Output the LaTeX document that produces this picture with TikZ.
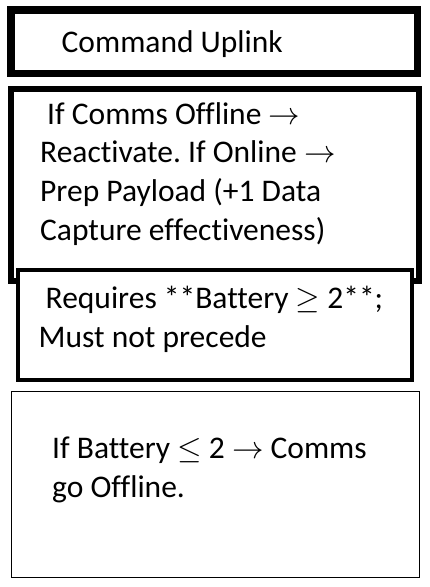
\documentclass[tikz,border=0pt]{standalone}
\usepackage{fix-cm}
\usepackage{fontspec}
\setmainfont[Ligatures=NoCommon]{Carlito}
\frenchspacing
\newcommand{\ra}{$\rightarrow$}
\newcommand{\lesym}{$\leq$}
\newcommand{\gesym}{$\geq$}
\begin{document}
\begin{tikzpicture}[x=1bp,y=-1bp,
  panel/.style={draw=black, fill=white, inner sep=0pt, anchor=center},
  label/.style={anchor=base west, align=left, inner sep=0pt,
    font=\fontsize{31.5bp}{38.8bp}\selectfont}]
\useasboundingbox (0,0) rectangle (429,587);
\fill[white] (0,0) rectangle (429,587);

% stacked panels
\node[panel, line width=7.5bp, minimum width=406.5bp, minimum height=63.5bp] (uplink) at (214.25,41.75) {};
\node[panel, line width=6bp, minimum width=408bp, minimum height=192bp] (prep) at (215,185) {};
\node[panel, line width=4bp, minimum width=394bp, minimum height=110bp] (req) at (215,325) {};
\node[panel, line width=1.2bp, minimum width=408bp, minimum height=186bp] (batt) at (215.5,484.5) {};

% panel texts (anchored at the baseline of the last line)
\node[label] (uplinkT) at (61.5,53) {Command Uplink};
\node[label] (prepT) at (40,240.5) {\hspace{7bp}If Comms Offline \ra\\Reactivate. If Online \ra\\Prep Payload (+1 Data\\Capture effectiveness)};
\node[label] (reqT) at (38.5,347) {\hspace{7bp}Requires **Battery \gesym{} 2**;\\Must not precede};
\node[label] (battT) at (52,497) {If Battery \lesym{} 2 \ra{} Comms\\go Offline.};
\end{tikzpicture}
\end{document}
